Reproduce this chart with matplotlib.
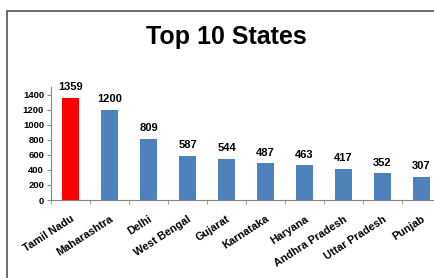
import matplotlib.pyplot as plt
from matplotlib.patches import Rectangle

plt.rcParams['font.family'] = ['Liberation Sans', 'DejaVu Sans']

states = ['Tamil Nadu', 'Maharashtra', 'Delhi', 'West Bengal', 'Gujarat',
          'Karnataka', 'Haryana', 'Andhra Pradesh', 'Uttar Pradesh', 'Punjab']
counts = [1359, 1200, 809, 587, 544, 487, 463, 417, 352, 307]
colors = ['#ff0000'] + ['#4f81bd'] * 9

fig = plt.figure(figsize=(4.34, 2.78), dpi=100)

# outer chart frame (right and bottom run off the picture)
fig.patches.append(Rectangle((7 / 434, -0.1), 1.2, 1 - 11 / 278 + 0.1,
                             transform=fig.transFigure, fill=False,
                             edgecolor='#555555', linewidth=1.2))

ax = fig.add_axes([51 / 434, 1 - 200 / 278, 390 / 434, 113 / 278])
x = range(len(states))
bars = ax.bar(x, counts, width=0.44, color=colors)

for i, v in enumerate(counts):
    ax.annotate(str(v), (i, v), xytext=(0, 4), textcoords='offset points',
                ha='center', va='bottom', fontsize=8, fontweight='bold')

ax.set_xlim(-0.5, len(states) - 0.5)
ax.set_ylim(0, 1500)
ax.set_yticks(range(0, 1401, 200))
ax.tick_params(axis='y', labelsize=6.8, length=3, color='#888888', pad=2)
for lab in ax.get_yticklabels():
    lab.set_fontweight('bold')

ax.set_xticks(list(x))
ax.set_xticklabels(states, rotation=33, ha='right', rotation_mode='anchor',
                   fontsize=7.8, fontweight='bold')
ax.tick_params(axis='x', length=0, pad=10)
ax.set_xticks([i + 0.5 for i in range(-1, len(states))], minor=True)
ax.tick_params(axis='x', which='minor', length=3, color='#888888')

for s in ['top', 'right']:
    ax.spines[s].set_visible(False)
for s in ['left', 'bottom']:
    ax.spines[s].set_color('#888888')
    ax.spines[s].set_linewidth(0.8)

fig.text(226 / 434, 1 - 37 / 278, 'Top 10 States', ha='center', va='center',
         fontsize=18, fontweight='bold')

fig.savefig('out.png', dpi=100)
